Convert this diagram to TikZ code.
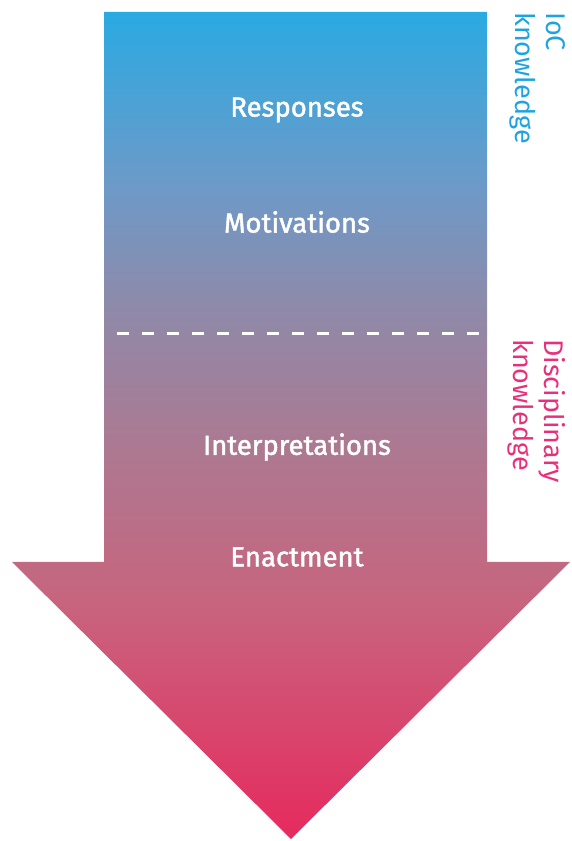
\documentclass[tikz,border=0pt]{standalone}
\usepackage{fontspec}
\setmainfont{Fira Sans}
\newfontfamily\stagefont[FakeBold=1.6]{Fira Sans}
\usetikzlibrary{positioning}

\definecolor{iocblue}{HTML}{1DA3E0}
\definecolor{discpink}{HTML}{E8307A}
\definecolor{gradA}{HTML}{E62A5E}
\definecolor{gradB}{HTML}{C8647E}
\definecolor{gradC}{HTML}{AE7890}
\definecolor{gradD}{HTML}{8E8AAA}
\definecolor{gradE}{HTML}{6C9AC8}
\definecolor{gradF}{HTML}{2AAAE2}

\pgfdeclareverticalshading{arrowgrad}{100bp}{
    color(0bp)=(gradA); color(25bp)=(gradA); color(39.2bp)=(gradB);
    color(48.2bp)=(gradC); color(57.3bp)=(gradD); color(64.6bp)=(gradE);
    color(75bp)=(gradF); color(100bp)=(gradF)}

\begin{document}
\begin{tikzpicture}[
    x=1pt, y=1pt,
    node distance=112pt,
    stage/.style={text=white, font=\stagefont\fontsize{27.5}{30}\selectfont, inner sep=0pt},
    side/.style={rotate=-90, anchor=north west, align=left, inner sep=0pt,
                 font=\fontsize{27}{31}\selectfont},
    divider/.style={white, line width=3pt, dash pattern=on 12pt off 13pt, dash phase=12pt}
]
    \useasboundingbox (0,0) rectangle (571,841);

    % Arrow outline
    \coordinate (topL) at (104,829);
    \coordinate (topR) at (487,829);
    \coordinate (shL) at (104,279);
    \coordinate (shR) at (487,279);
    \coordinate (headL) at (12,279);
    \coordinate (headR) at (570,279);
    \coordinate (tip) at (291,2);
    \shade[shading=arrowgrad] (topL) -- (topR) -- (shR) -- (headR) -- (tip)
        -- (headL) -- (shL) -- cycle;

    % Divider between the two kinds of knowledge
    \coordinate (divL) at (104,507);
    \coordinate (divR) at (487,507);
    \draw [divider] (divL) -- (divR);

    % Stages
    \node (resp) [stage] at (297,731) {Responses};
    \node (motiv) [stage, on grid, below=of resp] {Motivations};
    \node (interp) [stage, on grid, below=225pt of motiv] {Interpretations};
    \node (enact) [stage, on grid, below=110pt of interp] {Enactment};

    % Side labels
    \node (ioc) [side, text=iocblue] at (566,829) {IoC\\knowledge};
    \node (disc) [side, text=discpink] at (566,502) {Disciplinary\\knowledge};

\end{tikzpicture}
\end{document}
